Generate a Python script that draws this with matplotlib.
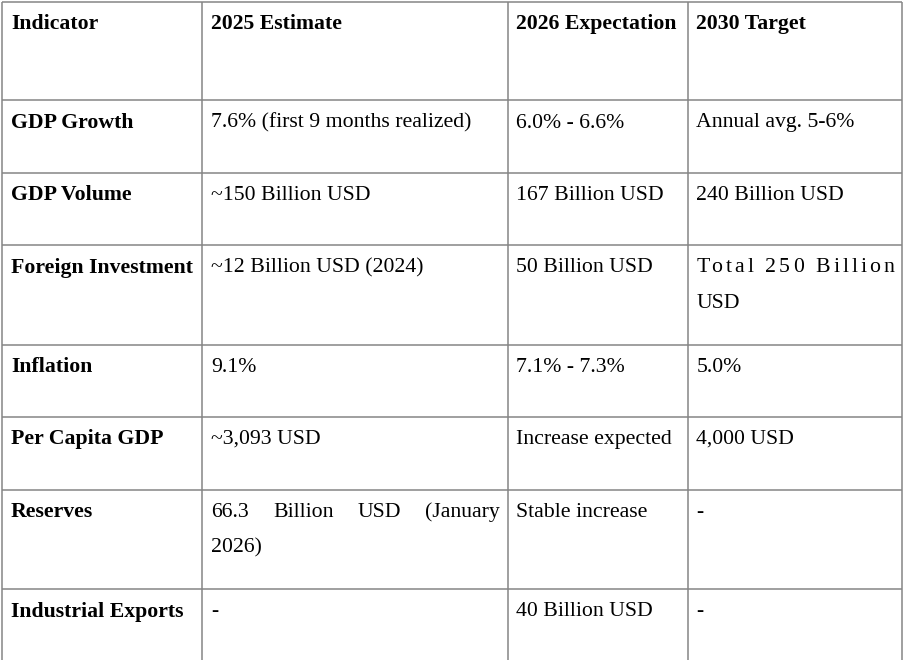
import matplotlib
matplotlib.use('Agg')
from matplotlib import pyplot as plt

header = ['Indicator', '2025 Estimate', '2026 Expectation', '2030 Target']
indicators = ['GDP Growth', 'GDP Volume', 'Foreign Investment', 'Inflation',
              'Per Capita GDP', 'Reserves', 'Industrial Exports']
est_2025 = ['7.6% (first 9 months realized)', '~150 Billion USD',
            '~12 Billion USD (2024)', '9.1%', '~3,093 USD',
            '66.3 Billion USD (January\n2026)', '-']
exp_2026 = ['6.0% - 6.6%', '167 Billion USD', '50 Billion USD', '7.1% - 7.3%',
            'Increase expected', 'Stable increase', '40 Billion USD']
target_2030 = ['Annual avg. 5-6%', '240 Billion USD', 'Total 250 Billion\nUSD',
               '5.0%', '4,000 USD', '-', '-']
# cells whose wrapped lines are spread by letter spacing instead of word gaps
letter_spaced = {'Total 250 Billion\nUSD'}

W, H = 904, 660
col_edges = [2.5, 202.5, 508, 688, 902.5]
row_edges = [1.5, 100, 172.5, 245, 345, 416.5, 489.5, 589]
FONT = 'Liberation Serif'
SIZE = 15.7
PAD_L, PAD_R = 8.5, 8
BASE = 27.5
LEADING = 35.5


def ink_width(ax, renderer, s, kw):
    t = ax.text(0, 0, s, **kw)
    w = t.get_window_extent(renderer).width
    t.remove()
    return w


def put_line(ax, renderer, x0, x1, y, line, weight, justify, by_letter):
    kw = dict(fontsize=SIZE, family=FONT, weight=weight,
              va='baseline', ha='left', color='black')
    if not justify or ' ' not in line:
        ax.text(x0, y, line, **kw)
        return
    wid = lambda s: ink_width(ax, renderer, s, kw)
    if by_letter:
        # ink-left of each glyph, measured after a sentinel bar
        lefts = [wid('|' + line[:i + 1]) - wid(line[i]) if line[i] != ' ' else None
                 for i in range(len(line))]
        first = lefts[0]
        gap = (x1 - x0 - wid(line)) / (len(line) - 1)
        for i, ch in enumerate(line):
            if ch != ' ':
                ax.text(x0 + lefts[i] - first + i * gap, y, ch, **kw)
        return
    words = line.split(' ')
    widths = [wid(w) for w in words]
    gap = (x1 - x0 - sum(widths)) / (len(words) - 1)
    x = x0
    for w, wd in zip(words, widths):
        ax.text(x, y, w, **kw)
        x += wd + gap


def main():
    fig = plt.figure(figsize=(W / 100, H / 100), dpi=100)
    ax = fig.add_axes([0, 0, 1, 1])
    ax.set_xlim(0, W)
    ax.set_ylim(H, 0)
    ax.axis('off')
    renderer = fig.canvas.get_renderer()

    grid = dict(color='#858585', lw=1.1)
    ax.hlines(row_edges, col_edges[0], col_edges[-1], **grid)
    ax.vlines(col_edges, row_edges[0], H, **grid)

    rows = [header] + [list(r) for r in zip(indicators, est_2025, exp_2026, target_2030)]
    for r, row in enumerate(rows):
        top = row_edges[r]
        for c, cell in enumerate(row):
            bold = r == 0 or c == 0
            x0 = col_edges[c] + PAD_L
            x1 = col_edges[c + 1] - PAD_R
            lines = cell.split('\n')
            for i, line in enumerate(lines):
                put_line(ax, renderer, x0, x1, top + BASE + i * LEADING, line,
                         'bold' if bold else 'normal', i < len(lines) - 1,
                         cell in letter_spaced)

    fig.savefig('out.png', dpi=100, facecolor='white')


if __name__ == '__main__':
    main()
